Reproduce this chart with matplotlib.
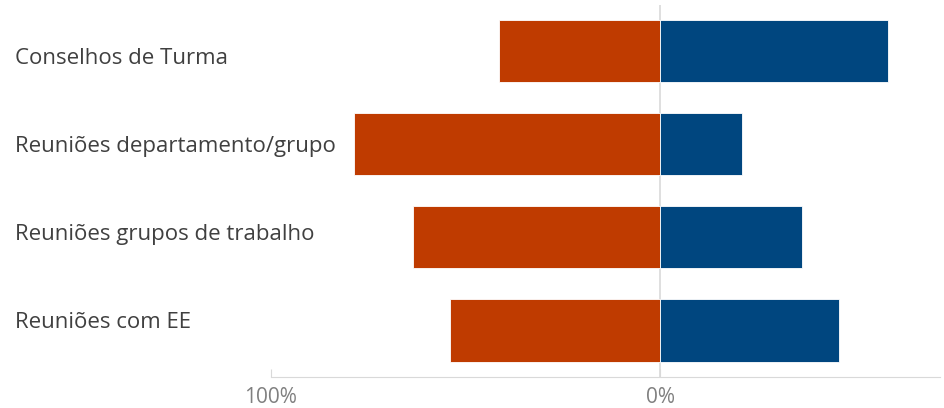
import matplotlib.pyplot as plt
from matplotlib.transforms import blended_transform_factory

# categories and values (percent)
categories = ["Conselhos de Turma", "Reuniões departamento/grupo",
              "Reuniões grupos de trabalho", "Reuniões com EE"]
left_vals = [41.5, 78.6, 63.4, 54]   # orange, drawn to the left
right_vals = [58.5, 21, 36.5, 46]    # blue, drawn to the right
tick_pos = [-100, 0]
tick_labels = ["100%", "0%"]

orange = "#BF3B00"
blue = "#00467F"

plt.rcParams['font.family'] = ['Open Sans', 'DejaVu Sans']

fig = plt.figure(figsize=(9.44, 4.08), dpi=100)
ax = fig.add_axes([0.287, 0.076, 0.709, 0.912])

y = list(range(len(categories)))
ax.barh(y, [-v for v in left_vals], height=0.667, color=orange,
        edgecolor="white", linewidth=0.6, zorder=2)
ax.barh(y, right_vals, height=0.667, color=blue,
        edgecolor="white", linewidth=0.6, zorder=2)
ax.axvline(0, color="#d9d9d9", linewidth=1.2, zorder=1)

ax.set_xlim(-100, 72)
ax.set_ylim(3.5, -0.5)

for s in ["top", "right", "left"]:
    ax.spines[s].set_visible(False)
ax.spines["bottom"].set_color("#d9d9d9")
ax.spines["bottom"].set_bounds(-100, 72)

ax.set_xticks(tick_pos)
ax.set_xticklabels(tick_labels, color="#808080", fontsize=15)
ax.tick_params(axis="x", direction="in", length=6, color="#d9d9d9", pad=7)
ax.set_yticks([])

# category labels sit at the left edge, spaced a bit tighter than the bars
trans = blended_transform_factory(fig.transFigure, ax.transData)
for i, c in enumerate(categories):
    ax.text(15 / 944, i * 0.945 + 0.075, c, transform=trans, ha="left",
            va="center", fontsize=16, color="#404040")

fig.savefig("out.png", dpi=100)
